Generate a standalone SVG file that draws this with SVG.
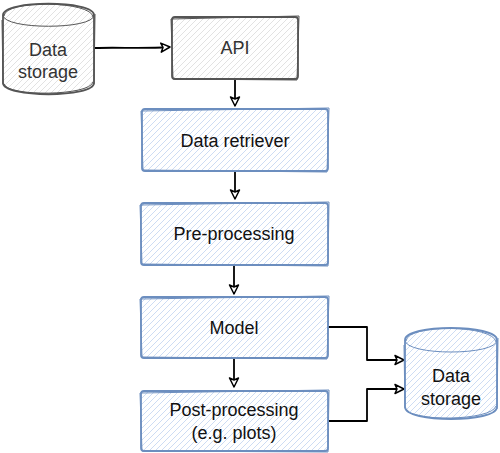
<svg xmlns="http://www.w3.org/2000/svg" width="500" height="453" viewBox="0 0 500 453">
<defs>
<pattern id="hb" patternUnits="userSpaceOnUse" width="6" height="6">
<path d="M-1,1 l2,-2 M0,6 l6,-6 M5,7 l2,-2" stroke="#b8cdee" stroke-width="0.7"/>
</pattern>
<pattern id="hg" patternUnits="userSpaceOnUse" width="6" height="6">
<path d="M-1,1 l2,-2 M0,6 l6,-6 M5,7 l2,-2" stroke="#d6d6d6" stroke-width="0.7"/>
</pattern>
<marker id="ar" markerWidth="12" markerHeight="12" refX="10" refY="6" orient="auto" markerUnits="userSpaceOnUse">
<path d="M1,1.5 L10,6 L1,10.5 L3,6 Z" fill="#fff" stroke="#000" stroke-width="1.5" stroke-linejoin="round"/>
</marker>
</defs>
<style>
.blue{fill:url(#hb);stroke:#6c8ebf;stroke-width:1.8;}
.blue2{fill:none;stroke:#6c8ebf;stroke-width:1;}
.gray{fill:url(#hg);stroke:#555;stroke-width:1.8;}
.gray2{fill:none;stroke:#555;stroke-width:1;}
.t{font-family:"Liberation Sans",Arial,sans-serif;font-size:18px;text-anchor:middle;fill:#111;}
.tg{font-family:"Liberation Sans",Arial,sans-serif;font-size:18px;text-anchor:middle;fill:#333;}
.c{fill:none;stroke:#000;stroke-width:1.8;marker-end:url(#ar);stroke-linejoin:round;}
</style>
<g id="connectors">
<path class="c" d="M95,48 C120,47 140,49 170,47"/>
<path class="c" d="M235,80 L235,106"/>
<path class="c" d="M235,172 L235,199"/>
<path class="c" d="M234,265 L234,294"/>
<path class="c" d="M234,359 L234,387"/>
<path class="c" d="M328,327 L367,327 L367,360 L404,360"/>
<path class="c" d="M328,421 L367,421 L367,389 L404,389"/>
</g>
<g id="storage-in">
<path class="gray" d="M3,15 C3,0 94,0 94,15 L94,83 C94,98 3,98 3,83 Z"/>
<path class="gray2" d="M3,15 C3,30 94,30 94,15"/>
<path class="gray2" d="M4,16 C5,-1 92,1 93,17 M2,20 L3,84 M95,14 L94,84 M4,84 C8,97 90,96 93,82"/>
<text class="tg" x="48" y="56">Data</text>
<text class="tg" x="48" y="78">storage</text>
</g>
<g id="api">
<rect class="gray" x="172" y="17" width="126" height="62" rx="3"/>
<path class="gray2" d="M171,19 L299,16 L297,80 L173,79 Z"/>
<text class="tg" x="235" y="54">API</text>
</g>
<g id="retriever">
<rect class="blue" x="142" y="109" width="186" height="62" rx="3"/>
<path class="blue2" d="M141,111 L329,108 L327,172 L143,170 Z"/>
<text class="t" x="235" y="147">Data retriever</text>
</g>
<g id="preprocessing">
<rect class="blue" x="141" y="203" width="187" height="62" rx="3"/>
<path class="blue2" d="M140,205 L329,202 L328,266 L142,264 Z"/>
<text class="t" x="234" y="240">Pre-processing</text>
</g>
<g id="model">
<rect class="blue" x="141" y="297" width="187" height="61" rx="3"/>
<path class="blue2" d="M140,299 L329,296 L327,359 L142,357 Z"/>
<text class="t" x="234" y="334">Model</text>
</g>
<g id="postprocessing">
<rect class="blue" x="141" y="391" width="187" height="60" rx="3"/>
<path class="blue2" d="M140,393 L329,390 L328,452 L142,451 Z"/>
<text class="t" x="234" y="416">Post-processing</text>
<text class="t" x="234" y="439">(e.g. plots)</text>
</g>
<g id="storage-out">
<path class="blue" d="M405,340 C405,324 497,324 497,340 L497,407 C497,423 405,423 405,407 Z"/>
<path class="blue2" d="M405,340 C405,356 497,356 497,340"/>
<path class="blue2" d="M406,341 C408,323 494,325 496,342 M404,345 L405,408 M498,338 L497,409 M406,409 C410,422 492,421 496,406"/>
<text class="t" x="451" y="382">Data</text>
<text class="t" x="451" y="405">storage</text>
</g>
</svg>
